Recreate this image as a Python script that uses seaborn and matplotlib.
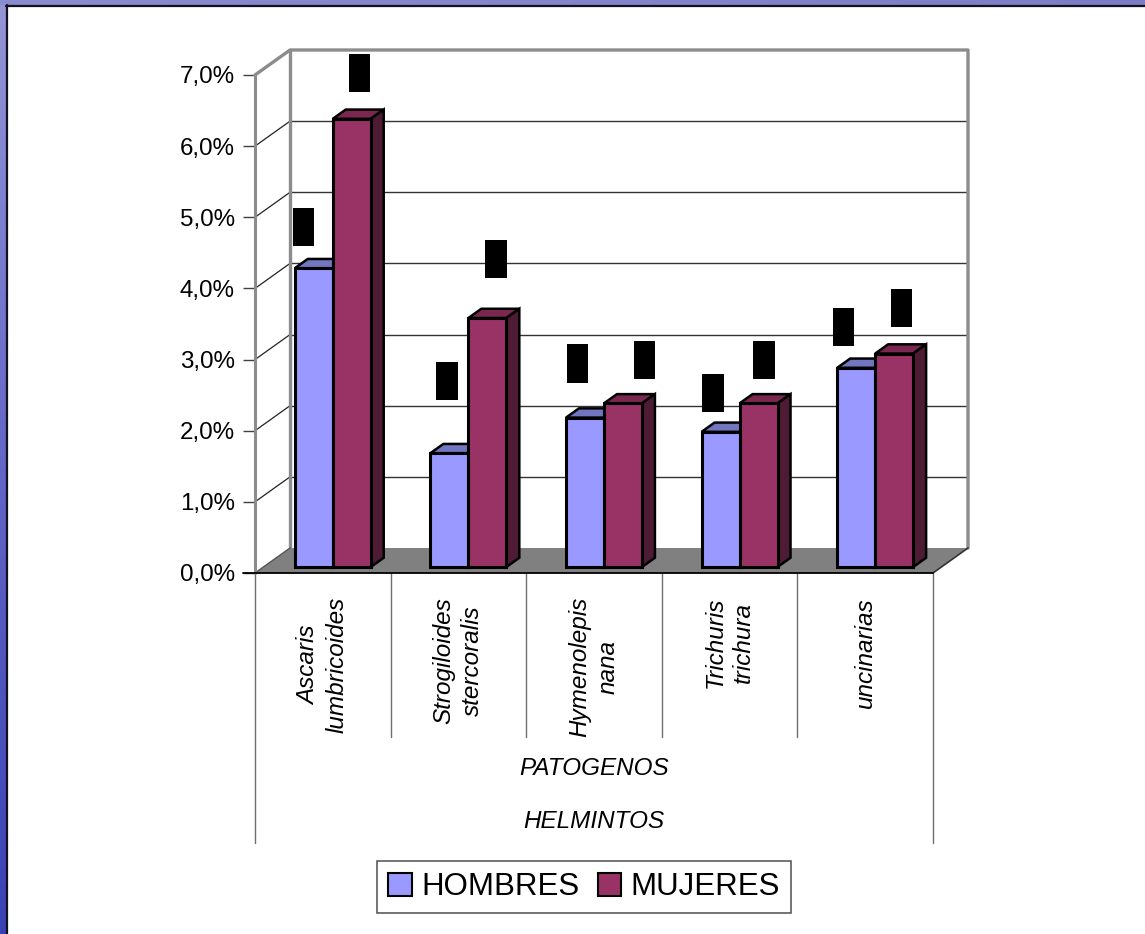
import numpy as np
import pandas as pd
import matplotlib
matplotlib.use("Agg")
import matplotlib.pyplot as plt
import seaborn as sns
from matplotlib.patches import Polygon, Patch, Rectangle
from matplotlib.lines import Line2D
from matplotlib.transforms import ScaledTranslation, IdentityTransform
from matplotlib.colors import LinearSegmentedColormap

# ---- data -------------------------------------------------------------
categorias = ["Ascaris\nlumbricoides", "Strogiloides\nstercoralis",
              "Hymenolepis\nnana", "Trichuris\ntrichura", "uncinarias"]
series = ["HOMBRES", "MUJERES"]
hombres = [4.2, 1.6, 2.1, 1.9, 2.8]
mujeres = [6.3, 3.5, 2.3, 2.3, 3.0]
yticks = [0, 1, 2, 3, 4, 5, 6, 7]
ytick_labels = ["0,0%", "1,0%", "2,0%", "3,0%", "4,0%", "5,0%", "6,0%", "7,0%"]
titulo_1 = "PATOGENOS"
titulo_2 = "HELMINTOS"

# value-label placement (pixels): horizontal nudge and gap above the bar
lab_dx_h = [-10.5, -2.5, -7.5, -7.5, -12.5]
lab_dx_m = [7.5, 8.5, 21.5, 5.5, 7.5]
lab_gap_h = [22, 53, 35, 20, 22]
lab_gap_m = [27, 40, 24, 24, 27]

# ---- style ------------------------------------------------------------
sns.set_theme(style="white")
plt.rcParams["font.family"] = ["Liberation Sans", "DejaVu Sans"]
plt.rcParams["text.color"] = "black"
plt.rcParams["axes.labelcolor"] = "black"
plt.rcParams["ytick.color"] = "black"

C_H, C_M = "#9999ff", "#993366"
TOP = {C_H: "#7275bf", C_M: "#7a2850"}
SIDE = {C_H: "#5b5d9c", C_M: "#4e1b35"}
WALL = "#8c8c8c"

W, H = 1145, 934
fig = plt.figure(figsize=(W / 100, H / 100), dpi=100)
fig.patch.set_facecolor("white")


def fx(px):
    return px / W


def fy(py):
    return 1 - py / H


# textured frame strips (left and top)
left_cm = LinearSegmentedColormap.from_list("l", ["#9496d6", "#6266c6", "#3a41b5"])
top_cm = LinearSegmentedColormap.from_list("t", ["#8a8ccf", "#7a7ec6"])
lax = fig.add_axes([0, 0, fx(6.5), 1])
lax.imshow(np.linspace(0, 1, 256)[:, None], cmap=left_cm, aspect="auto")
lax.axis("off")
tax = fig.add_axes([0, fy(5), 1, 5 / H])
tax.imshow(np.linspace(0, 1, 256)[None, :], cmap=top_cm, aspect="auto")
tax.axis("off")
fig.add_artist(Line2D([fx(7), fx(7)], [0, fy(5)], color="#111122", lw=1.6,
                      transform=fig.transFigure))
fig.add_artist(Line2D([fx(6), 1], [fy(6), fy(6)], color="#111122", lw=1.6,
                      transform=fig.transFigure))

# ---- main axes: the front plane of the 3-D box --------------------------
X0, X1 = 255, 933
Y0, Y7 = 573, 75
ax = fig.add_axes([fx(X0), fy(Y0), (X1 - X0) / W, (Y0 - Y7) / H])

df = pd.DataFrame({
    "patogeno": categorias * 2,
    "sexo": [series[0]] * len(categorias) + [series[1]] * len(categorias),
    "valor": hombres + mujeres,
})
sns.barplot(data=df, x="patogeno", y="valor", hue="sexo",
            palette={series[0]: C_H, series[1]: C_M}, width=0.56,
            saturation=1, edgecolor="black", linewidth=2.2,
            errorbar=None, legend=False, ax=ax)
bars = sorted([p for p in ax.patches if isinstance(p, Rectangle)],
              key=lambda p: p.get_x())

ax.set_xlim(-0.5, len(categorias) - 0.5)
ax.set_ylim(yticks[0], yticks[-1])
ax.patch.set_visible(False)
for s in ax.spines.values():
    s.set_visible(False)
ax.set_xticks([])
ax.set_xlabel("")
ax.set_ylabel("")
ax.set_yticks(yticks)
ax.set_yticklabels(ytick_labels)
ax.tick_params(axis="y", left=True, length=8.6, width=1.0, color="#404040",
               labelsize=17.4, pad=5.8, labelcolor="black")

DEPTH = np.array([35.0, 25.0])  # back-wall offset in pixels (right, up)
XL, XR = -0.5, len(categorias) - 0.5


def proj(x, y, d=0.0, shift=0.0):
    p = ax.transData.transform((x, y))
    return p + d * DEPTH + np.array([shift, 0.0])


def line(pts, **kw):
    pts = np.array(pts)
    ax.add_line(Line2D(pts[:, 0], pts[:, 1], transform=IdentityTransform(),
                       clip_on=False, **kw))


def poly(pts, **kw):
    ax.add_patch(Polygon(np.array(pts), closed=True,
                         transform=IdentityTransform(), clip_on=False, **kw))


# back wall grid lines and left side-wall diagonals
for v in yticks[1:-1]:
    line([proj(XL, v, 1), proj(XR, v, 1)], color="#333333", lw=1.0, zorder=0.5)
    line([proj(XL, v, 0), proj(XL, v, 1)], color="#222222", lw=0.9, zorder=0.5)

# floor
poly([proj(XL, 0, 0), proj(XR, 0, 0), proj(XR, 0, 1), proj(XL, 0, 1)],
     facecolor="#808080", edgecolor="none", zorder=1)
line([proj(XL, 0, 0), proj(XL, 0, 1)], color="#555555", lw=1.0, zorder=1.1)
line([proj(XR, 0, 0), proj(XR, 0, 1)], color="#333333", lw=1.2, zorder=1.1)

# wall edges
line([proj(XL, 0, 1), proj(XL, 7, 1)], color=WALL, lw=2.4, zorder=0.6)
line([proj(XL, 7, 0), proj(XL, 7, 1), proj(XR, 7, 1), proj(XR, 0, 1)],
     color=WALL, lw=2.4, zorder=0.6)
line([proj(XL, 0, 0), proj(XL, 7, 0)], color=WALL, lw=2.2, zorder=1.2)
line([proj(XL - 0.09, 0, 0), proj(XR, 0, 0)], color="black", lw=1.3, zorder=1.2)

# 3-D faces for the bars
F0, FD = 0.24, 0.37          # depth of the bar front and bar thickness
SHIFT = 1.6                  # small extra horizontal shift of the bar row
dx_px = F0 * DEPTH[0] + SHIFT
dy_px = F0 * DEPTH[1]
offset = ScaledTranslation(dx_px / fig.dpi, dy_px / fig.dpi, fig.dpi_scale_trans)

for k, p in enumerate(bars):
    x, w, h = p.get_x(), p.get_width(), p.get_height()
    fc = matplotlib.colors.to_hex(p.get_facecolor())
    z = 3 + k * 0.01
    p.set_transform(ax.transData + offset)
    p.set_zorder(z + 0.002)
    p.set_clip_on(False)
    poly([proj(x, h, F0, SHIFT), proj(x + w, h, F0, SHIFT),
          proj(x + w, h, F0 + FD, SHIFT), proj(x, h, F0 + FD, SHIFT)],
         facecolor=TOP.get(fc, fc), edgecolor="black", lw=1.8, zorder=z + 0.001,
         joinstyle="miter")
    poly([proj(x + w, 0, F0, SHIFT), proj(x + w, h, F0, SHIFT),
          proj(x + w, h, F0 + FD, SHIFT), proj(x + w, 0, F0 + FD, SHIFT)],
         facecolor=SIDE.get(fc, fc), edgecolor="black", lw=1.8, zorder=z + 0.001,
         joinstyle="miter")

# value labels above each bar
PAD_PX = 0.38 * 9 / 0.72
for i, (vh, vm) in enumerate(zip(hombres, mujeres)):
    for v, xc, hx, gap in ((vh, i - 0.14, lab_dx_h[i], lab_gap_h[i]),
                           (vm, i + 0.14, lab_dx_m[i], lab_gap_m[i])):
        ax.annotate(f"{v:.1f}%".replace(".", ","), xy=(xc, v),
                    xytext=((dx_px + hx) * 0.72, (dy_px + gap + PAD_PX) * 0.72),
                    textcoords="offset points", rotation=90,
                    ha="center", va="bottom", fontsize=9, color="black",
                    bbox=dict(boxstyle="square,pad=0.38", fc="black", ec="none"),
                    zorder=10, annotation_clip=False)


def ydata(py):
    return (Y0 - py) / (Y0 - Y7) * (yticks[-1] - yticks[0])


# category separators under the floor
for b in np.arange(XL, XR + 0.01, 1.0):
    end = 843 if b in (XL, XR) else 737
    ax.plot([b, b], [0, ydata(end)], color="#6e6e6e", lw=1.0, clip_on=False,
            zorder=1)

# category labels
for i, c in enumerate(categorias):
    ax.text(i, ydata(597), c, rotation=90, ha="center", va="top",
            multialignment="center", fontsize=17.5, style="italic",
            linespacing=1.3, clip_on=False)

ax.text((XL + XR) / 2, ydata(769), titulo_1, ha="center", va="center",
        fontsize=17.5, style="italic", clip_on=False)
ax.text((XL + XR) / 2, ydata(822), titulo_2, ha="center", va="center",
        fontsize=17.5, style="italic", clip_on=False)

# legend
handles = [Patch(facecolor=C_H, edgecolor="black", lw=1.5, label=series[0]),
           Patch(facecolor=C_M, edgecolor="black", lw=1.5, label=series[1])]
leg = fig.legend(handles=handles, loc="center", bbox_to_anchor=(fx(584), fy(887)),
                 ncol=2, fontsize=22.5, frameon=True, fancybox=False,
                 edgecolor="#333333", handlelength=0.75, handleheight=0.75,
                 handletextpad=0.3, columnspacing=0.6, borderpad=0.35,
                 borderaxespad=0)
leg.get_frame().set_linewidth(1.2)
for t in leg.get_texts():
    t.set_color("black")

fig.savefig("out.png", dpi=100, facecolor="white")
